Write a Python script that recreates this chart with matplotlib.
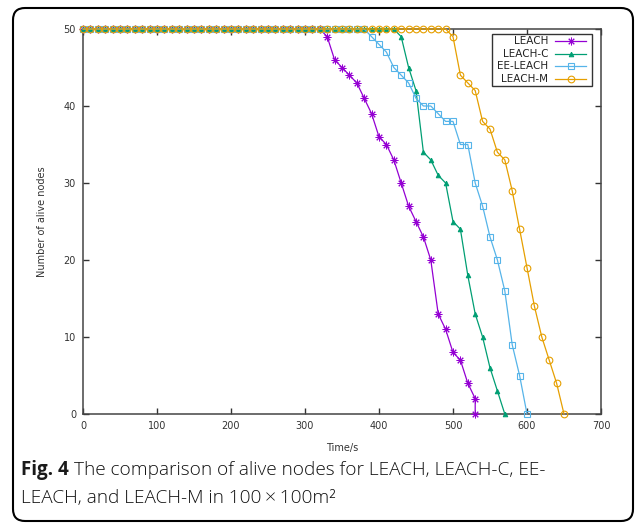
import matplotlib
matplotlib.use("Agg")
import matplotlib.pyplot as plt
import matplotlib.patches as mpatches
from matplotlib.transforms import IdentityTransform

# data (time in s, alive nodes)
leach_t = [0, 10, 20, 30, 40, 50, 60, 70, 80, 90, 100, 110, 120, 130, 140, 150, 160,
           170, 180, 190, 200, 210, 220, 230, 240, 250, 260, 270, 280, 290, 300, 310,
           320, 330, 340, 350, 360, 370, 380, 390, 400, 410, 420, 430, 440, 450, 460,
           470, 480, 490, 500, 510, 520, 530, 530]
leach_n = [50, 50, 50, 50, 50, 50, 50, 50, 50, 50, 50, 50, 50, 50, 50, 50, 50,
           50, 50, 50, 50, 50, 50, 50, 50, 50, 50, 50, 50, 50, 50, 50,
           50, 49, 46, 45, 44, 43, 41, 39, 36, 35, 33, 30, 27, 25, 23,
           20, 13, 11, 8, 7, 4, 2, 0]

leachc_t = [0, 10, 20, 30, 40, 50, 60, 70, 80, 90, 100, 110, 120, 130, 140, 150, 160,
            170, 180, 190, 200, 210, 220, 230, 240, 250, 260, 270, 280, 290, 300, 310,
            320, 330, 340, 350, 360, 370, 380, 390, 400, 410, 420, 430, 440, 450, 460,
            470, 480, 490, 500, 510, 520, 530, 540, 550, 560, 570]
leachc_n = [50, 50, 50, 50, 50, 50, 50, 50, 50, 50, 50, 50, 50, 50, 50, 50, 50,
            50, 50, 50, 50, 50, 50, 50, 50, 50, 50, 50, 50, 50, 50, 50,
            50, 50, 50, 50, 50, 50, 50, 50, 50, 50, 50, 49, 45, 42, 34,
            33, 31, 30, 25, 24, 18, 13, 10, 6, 3, 0]

ee_t = [0, 10, 20, 30, 40, 50, 60, 70, 80, 90, 100, 110, 120, 130, 140, 150, 160,
        170, 180, 190, 200, 210, 220, 230, 240, 250, 260, 270, 280, 290, 300, 310,
        320, 330, 340, 350, 360, 370, 380, 390, 400, 410, 420, 430, 440, 450, 460,
        470, 480, 490, 500, 510, 520, 530, 540, 550, 560, 570, 580, 590, 600]
ee_n = [50, 50, 50, 50, 50, 50, 50, 50, 50, 50, 50, 50, 50, 50, 50, 50, 50,
        50, 50, 50, 50, 50, 50, 50, 50, 50, 50, 50, 50, 50, 50, 50,
        50, 50, 50, 50, 50, 50, 50, 49, 48, 47, 45, 44, 43, 41, 40,
        40, 39, 38, 38, 35, 35, 30, 27, 23, 20, 16, 9, 5, 0]

leachm_t = [0, 10, 20, 30, 40, 50, 60, 70, 80, 90, 100, 110, 120, 130, 140, 150, 160,
            170, 180, 190, 200, 210, 220, 230, 240, 250, 260, 270, 280, 290, 300, 310,
            320, 330, 340, 350, 360, 370, 380, 390, 400, 410, 420, 430, 440, 450, 460,
            470, 480, 490, 500, 510, 520, 530, 540, 550, 560, 570, 580, 590, 600,
            610, 620, 630, 640, 650]
leachm_n = [50, 50, 50, 50, 50, 50, 50, 50, 50, 50, 50, 50, 50, 50, 50, 50, 50,
            50, 50, 50, 50, 50, 50, 50, 50, 50, 50, 50, 50, 50, 50, 50,
            50, 50, 50, 50, 50, 50, 50, 50, 50, 50, 50, 50, 50, 50, 50,
            50, 50, 50, 49, 44, 43, 42, 38, 37, 34, 33, 29, 24, 19,
            14, 10, 7, 4, 0]

x_ticks = [0, 100, 200, 300, 400, 500, 600, 700]
y_ticks = [0, 10, 20, 30, 40, 50]

plt.rcParams['font.family'] = ['DejaVu Sans']

fig = plt.figure(figsize=(6.35, 5.23), dpi=100)
ax = fig.add_axes([83 / 635, 109 / 523, 518 / 635, 385 / 523])

styles = [
    dict(color='#9400D3', marker=(8, 2, 0), ms=5.5, mew=0.7, mfc='#9400D3'),
    dict(color='#009E73', marker='^', ms=3.3, mew=0.7, mfc='#009E73'),
    dict(color='#56B4E9', marker='s', ms=4.6, mew=0.8, mfc='none'),
    dict(color='#E69F00', marker='o', ms=4.8, mew=0.8, mfc='none'),
]
series = [('LEACH', leach_t, leach_n), ('LEACH-C', leachc_t, leachc_n),
          ('EE-LEACH', ee_t, ee_n), ('LEACH-M', leachm_t, leachm_n)]

for (name, t, n), st in zip(series, styles):
    ax.plot(t, n, lw=0.9, clip_on=False, zorder=3, label=name, **st)

ax.set_xlim(0, 700)
ax.set_ylim(0, 50)
ax.set_xticks(x_ticks)
ax.set_yticks(y_ticks)
ax.tick_params(direction='in', top=True, right=True, length=4, width=1,
               labelsize=7, colors='#333333', pad=5)
for s in ax.spines.values():
    s.set_color('#444444')
    s.set_linewidth(1.1)
ax.set_xlabel('Time/s', fontsize=7, color='#333333', labelpad=9)
ax.set_ylabel('Number of alive nodes', fontsize=7, color='#333333', labelpad=12)

# gnuplot-style key: labels right-aligned, sample to the right
ax_x = lambda px: (px - 83) / 518
ax_y = lambda py: (414 - py) / 385
ax.add_patch(mpatches.Rectangle((ax_x(492), ax_y(86)), ax_x(592) - ax_x(492),
                                ax_y(34) - ax_y(86), transform=ax.transAxes,
                                fill=True, facecolor='white', edgecolor='#333333',
                                linewidth=1.0, zorder=5))
for i, ((name, t, n), st) in enumerate(zip(series, styles)):
    ry = ax_y(41 + 12.6 * i)
    ax.text(ax_x(548), ry, name, transform=ax.transAxes, ha='right', va='center',
            fontsize=7.5, color='#222222', zorder=6)
    ax.plot([ax_x(555), ax_x(586)], [ry, ry], transform=ax.transAxes,
            color=st['color'], lw=0.9, zorder=6, clip_on=False)
    ax.plot([ax_x(570.5)], [ry], transform=ax.transAxes, linestyle='none',
            zorder=6, clip_on=False, **st)

# rounded frame around the whole figure
box = mpatches.FancyBboxPatch((13, 2), 620, 513,
                              boxstyle='round,pad=0,rounding_size=12',
                              transform=IdentityTransform(), fill=False,
                              edgecolor='black', linewidth=1.5)
fig.patches.append(box)

# caption
cap_y1 = 1 - 470 / 523
cap_y2 = 1 - 498 / 523
t1 = fig.text(21 / 635, cap_y1, 'Fig. 4', fontsize=13.5, fontweight='bold',
              family='Open Sans', va='center', color='#1a1a1a')
fig.canvas.draw()
bb = t1.get_window_extent(fig.canvas.get_renderer())
fig.text((bb.x1 + 5) / 635, cap_y1,
         'The comparison of alive nodes for LEACH, LEACH-C, EE-',
         fontsize=13.7, family='Open Sans', fontweight='light', va='center',
         color='#111111')
fig.text(21 / 635, cap_y2, 'LEACH, and LEACH-M in 100\u2009\u00d7\u2009100m\u00b2',
         fontsize=13.7, family='Open Sans', fontweight='light', va='center',
         color='#111111')

fig.savefig('out.png', dpi=100)
